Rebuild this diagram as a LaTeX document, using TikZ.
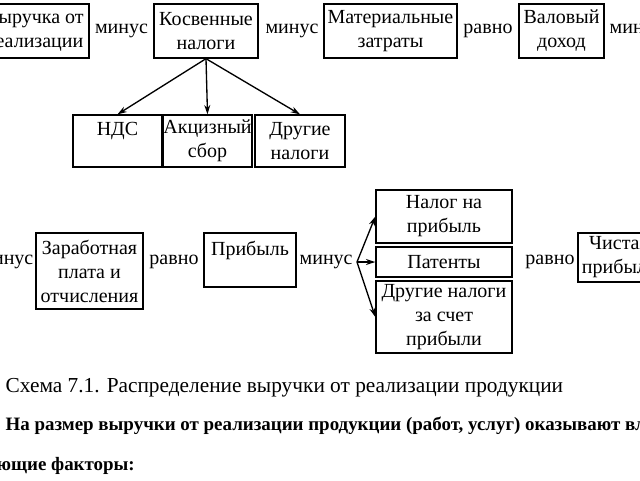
\documentclass[tikz,border=0pt]{standalone}
\usepackage{fontspec}
\setmainfont{Liberation Serif}
\usetikzlibrary{arrows.meta}

\begin{document}
\begin{tikzpicture}[x=0.75pt,y=-0.75pt,line width=1pt,
    box/.style={draw,align=center,inner sep=0pt,font=\fontsize{15}{18}\selectfont},
    word/.style={font=\fontsize{15}{18}\selectfont},
    arr/.style={-{Stealth[length=7pt,width=4.5pt]}}]

                \useasboundingbox (0,0) rectangle (640,480);
                \clip (0,0) rectangle (640,480);

                % top row
                \node[box, minimum width=81.75pt, minimum height=40.5pt] (vyr) at (34.5,31) {Выручка от\\реализации};
                \node[word] (minusA) at (121.5,31) {минус};
                \node[box, minimum width=78pt, minimum height=40.5pt] (kosv) at (206,31) {Косвенные\\налоги};
                \node[word] (minusB) at (292,31) {минус};
                \node[box, minimum width=99.75pt, minimum height=40.5pt] (mat) at (390.5,31) {Материальные\\затраты};
                \node[word] (ravnoA) at (488,31) {равно};
                \node[box, minimum width=63.75pt, minimum height=40.5pt] (val) at (561.5,31) {Валовый\\доход};
                \node[word, anchor=west, inner sep=0pt] (minusC) at (609,31) {минус};

                % indirect taxes
                \node[box, minimum width=66.75pt, minimum height=39pt] (nds) at (117.5,141) {НДС\\\mbox{}};
                \node[box, minimum width=66.75pt, minimum height=39pt] (akc) at (207.5,141) {Акцизный\\сбор};
                \node[box, minimum width=67.5pt, minimum height=39pt] (drug) at (300,141) {Другие\\налоги};

                \draw[arr] (kosv.south) -- (nds.north);
                \draw[arr] (kosv.south) -- (akc.north);
                \draw[arr] (kosv.south) -- (drug.north);

                % bottom row
                \node[word, anchor=east, inner sep=0pt] (minusD) at (34,262) {минус};
                \node[box, minimum width=80.25pt, minimum height=57pt] (zar) at (89.5,271) {Заработная\\плата и\\отчисления};
                \node[word] (ravnoB) at (174,262) {равно};
                \node[box, minimum width=69pt, minimum height=40.5pt] (prib) at (250,260) {Прибыль\\\mbox{}};
                \node[word, anchor=west, inner sep=0pt] (minusE) at (299,262) {минус};
                \coordinate (fan) at (357,262);

                \node[box, minimum width=102pt, minimum height=39.75pt] (nalog) at (444,216.5) {Налог на\\прибыль};
                \node[box, minimum width=102pt, minimum height=22.5pt] (pat) at (444,262) {Патенты};
                \node[box, minimum width=102pt, minimum height=54pt] (drugp) at (444,317) {Другие налоги\\за счет\\прибыли};

                \draw[arr] (fan) -- (nalog.west);
                \draw[arr] (fan) -- (pat.west);
                \draw[arr] (fan) -- (drugp.west);

                \node[word] (ravnoC) at (550,262) {равно};
                \node[box, minimum width=61.5pt, minimum height=36.75pt] (chist) at (619,257.5) {Чистая\\прибыль};

                % caption and text
                \node[anchor=base west, inner sep=0pt, font=\fontsize{16}{18}\selectfont] (capt) at (5,392) {Схема 7.1. Распределение выручки от реализации продукции};
                \node[anchor=base west, inner sep=0pt, font=\fontsize{14.2}{16}\selectfont\bfseries] (textA) at (5,430) {На размер выручки от реализации продукции (работ, услуг) оказывают влияние};
                \node[anchor=base west, inner sep=0pt, font=\fontsize{14.2}{16}\selectfont\bfseries] (textB) at (-4,470) {ющие факторы:};

            \end{tikzpicture}
\end{document}
